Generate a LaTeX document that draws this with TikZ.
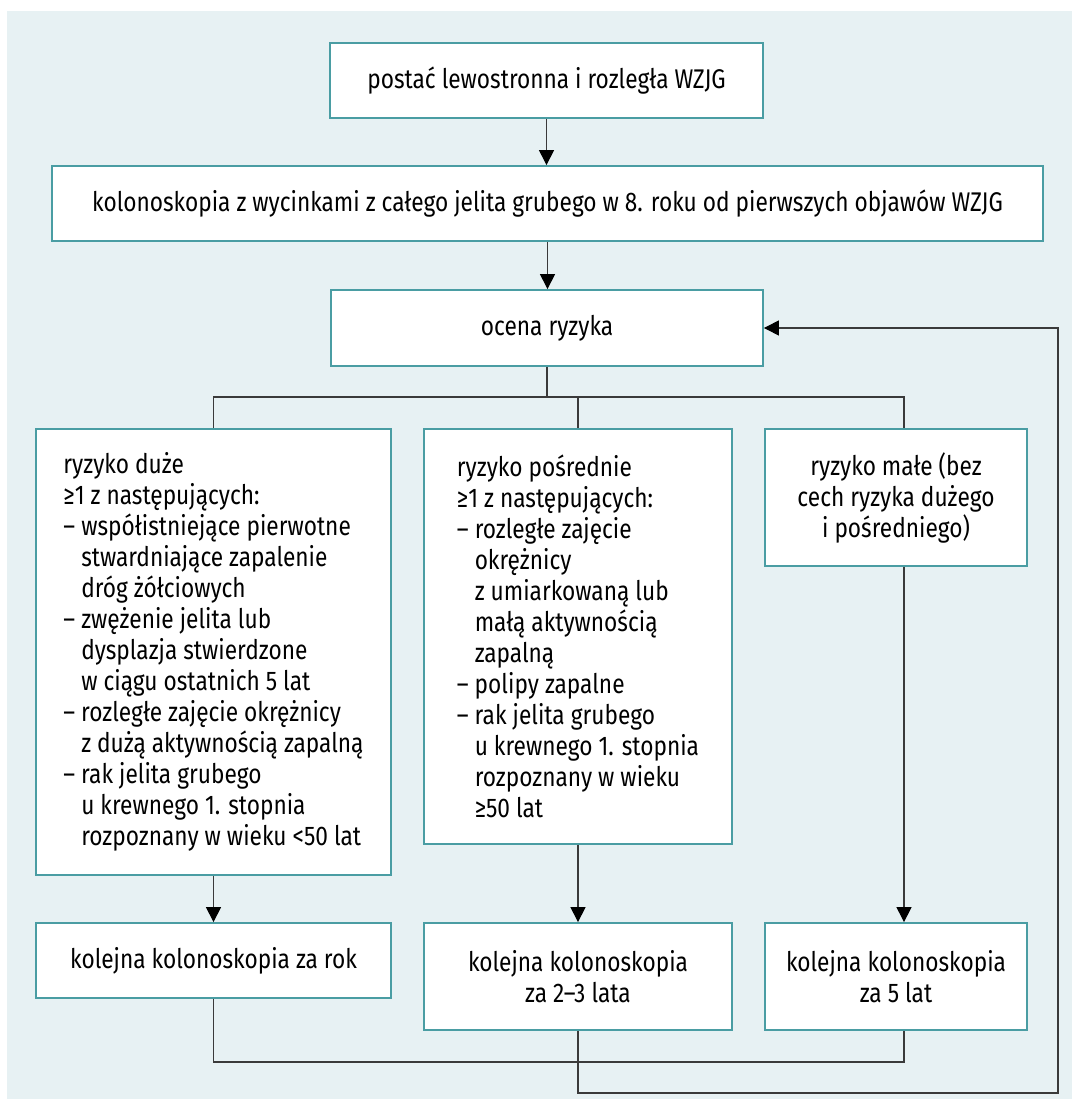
\documentclass[tikz,border=0pt]{standalone}
\usepackage{fontspec}
\setmainfont{Fira Sans}[FakeStretch=0.84]
\usepackage{tikz}
\usetikzlibrary{arrows.meta,positioning}
\definecolor{Panel}{HTML}{E7F1F3}
\definecolor{Teal}{HTML}{4A9DA3}
\definecolor{LineGray}{HTML}{3A3A3A}
\newcommand{\listpad}{\hphantom{–\ }}

\begin{document}
\begin{tikzpicture}[
  x=1pt, y=-1pt,
  wbox/.style={draw=Teal, line width=1.8pt, fill=white, align=center, inner sep=0pt,
               font=\fontsize{27}{31}\selectfont},
  link/.style={draw=LineGray, line width=1.1pt},
  arr/.style={link, -{Triangle[length=15pt,width=15pt,color=black]}}
]
  \useasboundingbox (0,0) rectangle (1072,1099);
  \fill[white] (0,0) rectangle (1072,1099);
  \fill[Panel] (7,11) rectangle (1072,1099);

  \node[wbox, minimum width=433, minimum height=75] (start) at (546.5,80.5)
    {postać lewostronna i rozległa WZJG};
  \node[wbox, minimum width=991, minimum height=75] (colo) at (547.5,203.5)
    {kolonoskopia z wycinkami z całego jelita grubego w 8. roku od pierwszych objawów WZJG};
  \node[wbox, minimum width=432, minimum height=76] (ocena) at (547,328)
    {ocena ryzyka};

  \node[wbox, align=left, minimum width=355, minimum height=446] (high) at (213.5,652)
    {ryzyko duże\\
     ≥1 z następujących:\\
     – współistniejące pierwotne\\
     \listpad stwardniające zapalenie\\
     \listpad dróg żółciowych\\
     – zwężenie jelita lub\\
     \listpad dysplazja stwierdzone\\
     \listpad w ciągu ostatnich 5 lat\\
     – rozległe zajęcie okrężnicy\\
     \listpad z dużą aktywnością zapalną\\
     – rak jelita grubego\\
     \listpad u krewnego 1. stopnia\\
     \listpad rozpoznany w wieku <50 lat};
  \node[wbox, align=left, minimum width=308, minimum height=415] (mid) at (578,636.5)
    {ryzyko pośrednie\\
     ≥1 z następujących:\\
     – rozległe zajęcie\\
     \listpad okrężnicy\\
     \listpad z umiarkowaną lub\\
     \listpad małą aktywnością\\
     \listpad zapalną\\
     – polipy zapalne\\
     – rak jelita grubego\\
     \listpad u krewnego 1. stopnia\\
     \listpad rozpoznany w wieku\\
     \listpad ≥50 lat};
  \node[wbox, minimum width=262, minimum height=137] (low) at (896,497.5)
    {ryzyko małe (bez\\ cech ryzyka dużego\\ i pośredniego)};

  \node[wbox, minimum width=355, minimum height=75] (nexthigh) at (213.5,960.5)
    {kolejna kolonoskopia za rok};
  \node[wbox, minimum width=308, minimum height=107] (nextmid) at (578,976.5)
    {kolejna kolonoskopia\\ za 2–3 lata};
  \node[wbox, minimum width=262, minimum height=107] (nextlow) at (896,976.5)
    {kolejna kolonoskopia\\ za 5 lat};

  \coordinate (split) at (547,397);
  \coordinate (bleft) at (213.5,397);
  \coordinate (bright) at (904,397);
  \coordinate (jhigh) at (904,1062);
  \coordinate (jmid) at (1058,1093);

  \draw[arr] (start.south) -- (start.south |- colo.north);
  \draw[arr] (colo.south) -- (colo.south |- ocena.north);
  \draw[link] (ocena.south) -- (split);
  \draw[link] (high.north) |- (bright) -- (bright |- low.north);
  \draw[link] (mid.north) -- (mid.north |- split);

  \draw[arr] (high.south) -- (nexthigh.north);
  \draw[arr] (mid.south) -- (nextmid.north);
  \draw[arr] (bright |- low.south) -- (bright |- nextlow.north);

  \draw[link] (nexthigh.south) |- (jhigh) -- (jhigh |- nextlow.south);
  \draw[arr] (nextmid.south) |- (jmid) |- (ocena.east);
\end{tikzpicture}
\end{document}
